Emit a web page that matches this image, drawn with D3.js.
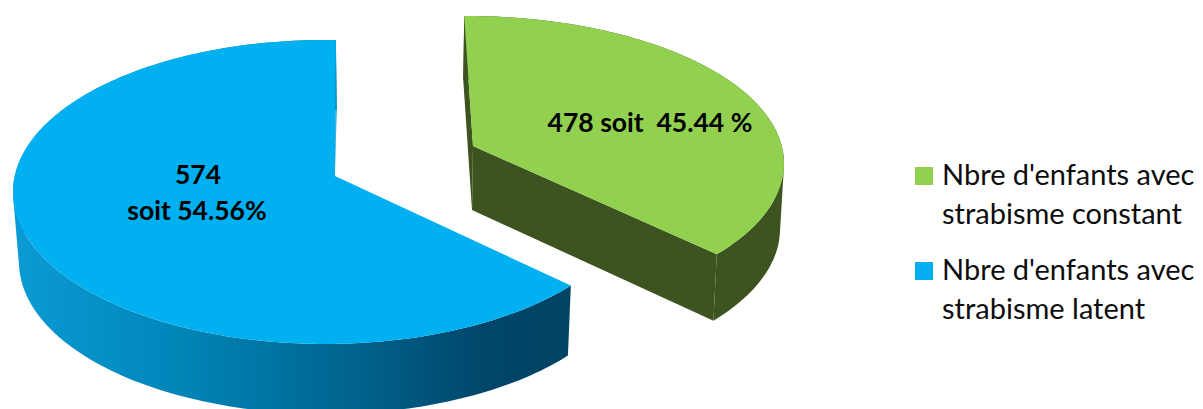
<!DOCTYPE html>
<html><head><meta charset="utf-8">
<script src="https://cdn.jsdelivr.net/npm/d3@7"></script>
<style>html,body{margin:0;padding:0;background:#fff;overflow:hidden}svg{display:block}text{font-family:Lato,"Open Sans",sans-serif}</style>
</head><body>
<script>
// data
const categories = ["Nbre d'enfants avec strabisme constant", "Nbre d'enfants avec strabisme latent"];
const values = [478, 574];
const legendLines = [["Nbre d'enfants avec", "strabisme constant"], ["Nbre d'enfants avec", "strabisme latent"]];
const dataLabels = [["478 soit  45.44 %"], ["574", "soit 54.56%"]];
const colours = ["#92d050", "#00b0f0"];

const W = 1203, H = 409;
const svg = d3.select("body").append("svg").attr("width", W).attr("height", H).attr("viewBox", `0 0 ${W} ${H}`);

// 3-D look: the picture's perspective squeezes the true pie angle (see reference)
const angle = d3.scaleLinear().domain([0, values[0] / d3.sum(values) * 360, 360]).range([-0.5, 128, 362]);
const pie = d3.pie().sort(null).value(d => d).startAngle(0).endAngle(2 * Math.PI);
const deg = r => r * 180 / Math.PI;

const geo = [
  { apex: [473, 146], apexLow: [472, 210], top: { cx: 467, cy: 163.5, rx: 317, ry: 147.5 }, low: { cx: 466, cy: 229, rx: 314, ry: 149 } },
  { apex: [335, 176], apexLow: [333, 245], top: { cx: 325, cy: 192, rx: 312, ry: 152 }, low: { cx: 326, cy: 262, rx: 307, ry: 152 } }
];
const wallFill = ["#3e5420", "#0d8fc4"];

const defs = svg.append("defs");
const grad = defs.append("linearGradient").attr("id", "blueWall").attr("gradientUnits", "userSpaceOnUse")
  .attr("x1", 15).attr("x2", 568).attr("y1", 0).attr("y2", 0);
[[0, "#0b9bd4"], [0.3, "#0085b8"], [0.6, "#00658f"], [0.85, "#00466a"], [1, "#004463"]]
  .forEach(([o, c]) => grad.append("stop").attr("offset", o).attr("stop-color", c));

const onEll = (e, t) => [e.cx + e.rx * Math.sin(t * Math.PI / 180), e.cy - e.ry * Math.cos(t * Math.PI / 180)];
const arcPts = (e, a, b) => d3.range(0, 181).map(i => onEll(e, a + (b - a) * i / 180));
const line = d3.line();

// swept wall: one consistently wound quad per step, so the silhouette between the two rims fills in
function sweep(p, a, b) {
  const T = arcPts(p.top, a, b), L = arcPts(p.low, a, b);
  return d3.range(T.length - 1).map(i => {
    const q = [T[i], T[i + 1], L[i + 1], L[i]];
    if (d3.polygonArea(q) < 0) q.reverse();
    return line(q) + "Z";
  }).join("");
}

const arcs = pie(values).map((d, i) => ({ a: angle(deg(d.startAngle)), b: angle(deg(d.endAngle)), g: geo[i], i }));

arcs.forEach(s => {
  const g = svg.append("g");
  const { a, b, g: p, i } = s;
  // outer wall
  g.append("path").attr("fill", i === 0 ? wallFill[0] : "url(#blueWall)").attr("d", sweep(p, a, b));
  // radial walls that face the viewer (the blue slice only shows its closing edge)
  (i === 0 ? [a, b] : [b]).forEach(t => {
    g.append("path").attr("fill", wallFill[i]).attr("d", line([p.apex, onEll(p.top, t), onEll(p.low, t), p.apexLow]) + "Z");
  });
  // top face
  g.append("path").attr("fill", colours[i])
    .attr("d", line([p.apex].concat(arcPts(p.top, a, b))) + "Z");
});

// data labels
const labelPos = [[{ x: 650, y: 132 }], [{ x: 198, y: 184 }, { x: 197, y: 220 }]];
dataLabels.forEach((lines, i) => lines.forEach((t, j) => {
  svg.append("text").attr("x", labelPos[i][j].x).attr("y", labelPos[i][j].y).attr("text-anchor", "middle")
    .style("white-space", "pre")
    .attr("font-size", 26.5).attr("font-weight", 700).attr("fill", "#000").text(t);
}));

// legend
const legendY = d3.scalePoint().domain(categories).range([167, 262]);
categories.forEach((c, i) => {
  const y = legendY(c);
  svg.append("rect").attr("x", 915).attr("y", y).attr("width", 18).attr("height", 18).attr("fill", colours[i]);
  legendLines[i].forEach((t, j) => {
    svg.append("text").attr("x", 942).attr("y", y + 18 + j * 39).attr("font-size", 29).attr("fill", "#0d0d0d").text(t);
  });
});
</script>
</body></html>
